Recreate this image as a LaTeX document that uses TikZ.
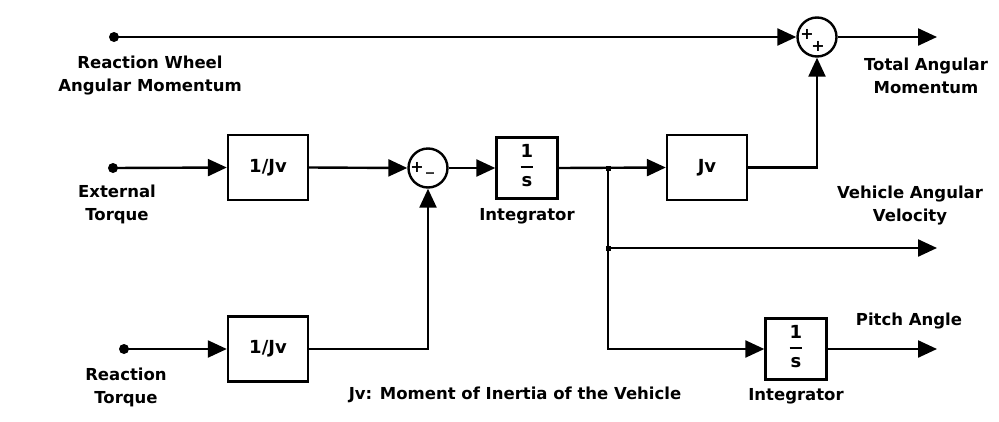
\documentclass[tikz,border=0pt]{standalone}
\usepackage{fontspec}
\setmainfont{DejaVu Sans}
\usetikzlibrary{arrows.meta}
\tikzset{
  wire/.style={line width=2.4pt},
  arr/.style={wire,-{Triangle[length=19pt,width=17pt]}},
  blk/.style={draw,line width=2.4pt,minimum width=80pt,minimum height=65pt,inner sep=0pt,font=\fontsize{18}{20}\selectfont\bfseries},
  intb/.style={draw,line width=2.4pt,minimum width=61pt,minimum height=61pt,inner sep=0pt},
  sumc/.style={draw,circle,line width=2.4pt,minimum size=39pt,inner sep=0pt},
  lbl/.style={align=center,font=\fontsize{16.5}{23}\selectfont\bfseries,inner sep=0pt},
  sgn/.style={font=\fontsize{16}{16}\selectfont\bfseries,inner sep=0pt},
  src/.style={circle,fill,inner sep=0pt,minimum size=10pt},
  junc/.style={fill,inner sep=0pt,minimum size=5pt}
}
\newcommand{\oneovers}{{\fontsize{18}{18}\selectfont\bfseries\setlength{\arrayrulewidth}{2pt}\begin{tabular}{@{}c@{}}1\\[3pt]\hline\rule{0pt}{18pt}s\end{tabular}}}
\begin{document}
\begin{tikzpicture}[x=1pt,y=-1pt]
\useasboundingbox (0,0) rectangle (999,421);
% nodes
\node[src] (rw) at (114,37) {};
\node[sumc] (sumT) at (817,37) {};
\node[sgn] at (807,34) {+};
\node[sgn] at (818,46) {+};
\coordinate (totout) at (937,37);
\node[src] (ext) at (113,168) {};
\node[blk] (b1) at (268,167.5) {1/Jv};
\node[sumc] (sumM) at (428,168) {};
\node[sgn] at (417,167) {+};
\node[sgn] at (430,172) {\_};
\node[intb] (int1) at (527,168) {\oneovers};
\node[junc] (br1) at (608,168) {};
\node[blk] (jv) at (707,167.5) {Jv};
\node[junc] (br2) at (608,248) {};
\coordinate (velout) at (937,248);
\node[src] (reac) at (124,349) {};
\node[blk] (b2) at (268,349) {1/Jv};
\node[intb] (int2) at (796,349) {\oneovers};
\coordinate (pitchout) at (937,349);
% labels
\node[lbl] (l1) at (150,76) {Reaction Wheel\\Angular Momentum};
\node[lbl] (l2) at (926,76) {Total Angular\\Momentum};
\node[lbl] (l3) at (117,204) {External\\Torque};
\node[lbl] (l4) at (527,216) {Integrator};
\node[lbl] (l5) at (910,206) {Vehicle Angular\\Velocity};
\node[lbl] (l6) at (909,321) {Pitch Angle};
\node[lbl] (l7) at (126,387) {Reaction\\Torque};
\node[lbl] (l8) at (515,395) {Jv: Moment of Inertia of the Vehicle};
\node[lbl] (l9) at (796,396) {Integrator};
% connectors
\draw[arr] (rw.center) -- (sumT.west);
\draw[arr] (sumT.east) -- (totout);
\draw[arr] (jv.east) -| (sumT.south);
\draw[arr] (ext.center) -- (b1.west);
\draw[arr] (b1.east) -- (sumM.west);
\draw[arr] (sumM.east) -- (int1.west);
\draw[arr] (int1.east) -- (jv.west);
\draw[wire] (br1.center) -- (br2.center);
\draw[arr] (br2.center) -- (velout);
\draw[arr] (br2.center) |- (int2.west);
\draw[arr] (int2.east) -- (pitchout);
\draw[arr] (reac.center) -- (b2.west);
\draw[arr] (b2.east) -| (sumM.south);
\end{tikzpicture}
\end{document}
